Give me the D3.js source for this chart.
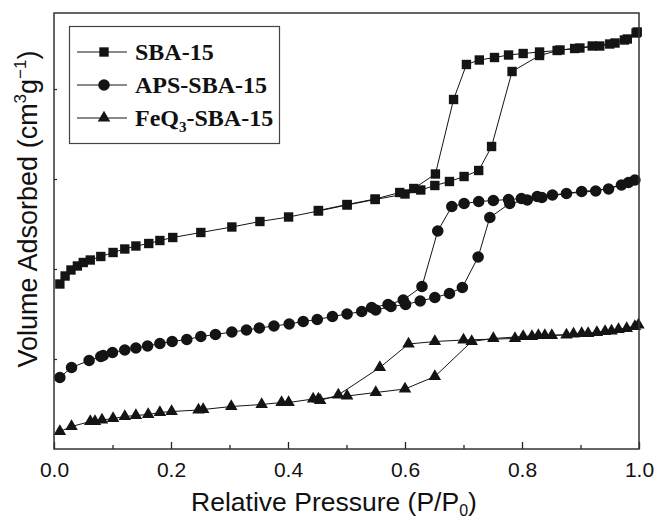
<!DOCTYPE html>
<html><head><meta charset="utf-8">
<script src="https://cdn.jsdelivr.net/npm/d3@7"></script>
<style>body{margin:0;background:#fff}svg{display:block}</style>
</head><body>
<script>
// Relative pressure (P/P0) and adsorbed volume (arbitrary units), adsorption + desorption
const sbaP = [0.010,0.019,0.029,0.040,0.050,0.062,0.080,0.101,0.121,0.140,0.162,0.181,0.203,0.251,0.304,0.352,0.401,0.452,0.501,0.549,0.600,0.627,0.651,0.676,0.701,0.726,0.748,0.783,0.830,0.865,0.899,0.933,0.959,0.980,0.997,
  0.995,0.975,0.950,0.920,0.890,0.860,0.830,0.802,0.777,0.753,0.727,0.705,0.683,0.652,0.615,0.591,0.549,0.501,0.452];
const sbaV = [330,346,358,366,373,378,385,393,400,406,411,417,423,433,444,455,464,476,488,499,510,518,527,535,545,557,605,755,787,798,802,806,812,820,834,
  832,818,810,806,801,797,794,791,788,783,778,769,699,550,521,513,500,489,477];
const apsP = [0.010,0.030,0.060,0.080,0.084,0.100,0.121,0.140,0.160,0.181,0.202,0.227,0.251,0.276,0.304,0.329,0.351,0.376,0.402,0.426,0.450,0.476,0.501,0.526,0.550,0.576,0.601,0.626,0.651,0.676,0.698,0.725,0.745,0.779,0.809,0.834,0.876,0.926,0.970,0.993,
  0.982,0.948,0.902,0.852,0.826,0.799,0.777,0.751,0.726,0.701,0.680,0.656,0.629,0.597,0.571,0.543];
const apsV = [143,163,177,185,187,193,198,202,206,211,215,219,225,229,234,238,242,246,250,255,259,265,270,275,278,285,289,296,303,311,323,384,463,491,498,503,511,516,528,538,
  533,520,515,508,505,501,499,497,495,491,485,436,325,298,289,283];
const feP = [0.010,0.030,0.062,0.070,0.082,0.101,0.121,0.140,0.161,0.181,0.201,0.247,0.255,0.303,0.355,0.389,0.401,0.443,0.452,0.501,0.550,0.600,0.651,0.714,0.751,0.802,0.828,0.851,0.888,0.913,0.942,0.965,0.993,0.999,
  0.979,0.953,0.928,0.902,0.876,0.839,0.817,0.788,0.700,0.651,0.606,0.557,0.486,0.455];
const feV = [35,45,55,55,58,61,65,67,69,73,75,78,79,85,89,93,93,100,100,106,113,120,145,215,221,225,227,227,230,231,235,239,245,248,
  241,236,233,231,228,227,225,221,218,215,210,163,108,97];
const xTicks = [0,0.2,0.4,0.6,0.8,1.0];
const xMinor = [0.1,0.3,0.5,0.7,0.9];
const yTicks = [180,360,540,720];

const W = 657, H = 519;
const m = {l:54, r:18, t:13, b:70};
const svg = d3.select("body").append("svg").attr("width",W).attr("height",H);
const x = d3.scaleLinear().domain([0,1]).range([m.l, W-m.r]);
const y = d3.scaleLinear().domain([0,872]).range([H-m.b, m.t]);
const col = "#141414";

function series(P, V, sym, size){
  const pts = P.map((p,i)=>[p,V[i]]);
  svg.append("path").datum(pts)
    .attr("d", d3.line().x(d=>x(d[0])).y(d=>y(d[1])))
    .attr("fill","none").attr("stroke",col).attr("stroke-width",1);
  svg.append("g").selectAll("path").data(pts).join("path")
    .attr("transform", d=>`translate(${x(d[0])},${y(d[1])})`)
    .attr("d", d3.symbol().type(sym).size(size)).attr("fill",col);
}
series(feP, feV, d3.symbolTriangle, 68);
series(apsP, apsV, d3.symbolCircle, 105);
series(sbaP, sbaV, d3.symbolSquare, 88);

// axes
const xAxis = d3.axisBottom(x).tickValues(xTicks).tickFormat(d3.format(".1f")).tickSizeInner(-7).tickSizeOuter(0).tickPadding(13);
const gx = svg.append("g").attr("transform",`translate(0,${H-m.b})`).call(xAxis);
gx.selectAll("text").attr("font-family","Liberation Sans, Arial, sans-serif").attr("font-size",21).attr("fill","#111");
gx.selectAll("line").attr("stroke","#222").attr("stroke-width",1.3);
gx.select(".domain").remove();
const gxm = svg.append("g").attr("transform",`translate(0,${H-m.b})`)
  .call(d3.axisBottom(x).tickValues(xMinor).tickFormat("").tickSizeInner(-4).tickSizeOuter(0));
gxm.selectAll("line").attr("stroke","#222").attr("stroke-width",1.3);
gxm.select(".domain").remove();
const gy = svg.append("g").attr("transform",`translate(${m.l},0)`)
  .call(d3.axisLeft(y).tickValues(yTicks).tickFormat("").tickSizeInner(-3).tickSizeOuter(0));
gy.selectAll("line").attr("stroke","#222").attr("stroke-width",1.2);
gy.select(".domain").remove();

svg.append("rect").attr("x",m.l).attr("y",m.t).attr("width",W-m.r-m.l).attr("height",H-m.b-m.t)
  .attr("fill","none").attr("stroke","#333").attr("stroke-width",1.5);

// axis titles
const xl = svg.append("text").attr("x",334).attr("y",511).attr("text-anchor","middle")
  .attr("font-family","Liberation Sans, Arial, sans-serif").attr("font-size",26.5).attr("fill","#111");
xl.append("tspan").text("Relative Pressure (P/P");
xl.append("tspan").text("0").attr("font-size",16).attr("dy",5);
xl.append("tspan").text(")").attr("dy",-5);

const yl = svg.append("text").attr("transform",`translate(37,209) rotate(-90)`).attr("text-anchor","middle")
  .attr("font-family","Liberation Sans, Arial, sans-serif").attr("font-size",27).attr("fill","#111");
yl.append("tspan").text("Volume Adsorbed (cm");
yl.append("tspan").text("3").attr("font-size",17).attr("dy",-11);
yl.append("tspan").text("g").attr("dy",11);
yl.append("tspan").text("\u22121").attr("font-size",17).attr("dy",-11);
yl.append("tspan").text(")").attr("dy",11);

// legend
const legNames = ["SBA-15","APS-SBA-15","FeQ"];
const legSyms = [d3.symbolSquare, d3.symbolCircle, d3.symbolTriangle];
const legSizes = [88, 105, 68];
svg.append("rect").attr("x",69.5).attr("y",26.5).attr("width",210).attr("height",117)
  .attr("fill","#fff").attr("stroke","#444").attr("stroke-width",1.2);
legNames.forEach((n,i)=>{
  const yy = 52 + i*33;
  svg.append("line").attr("x1",77).attr("x2",127).attr("y1",yy).attr("y2",yy).attr("stroke",col).attr("stroke-width",1);
  svg.append("path").attr("transform",`translate(104,${yy})`).attr("d",d3.symbol().type(legSyms[i]).size(legSizes[i])).attr("fill",col);
  const t = svg.append("text").attr("x",135).attr("y",yy+8)
    .attr("font-family","Liberation Serif, Times New Roman, serif").attr("font-weight","bold").attr("font-size",24).attr("fill","#111");
  t.append("tspan").text(n);
  if(i===2){
    t.append("tspan").text("3").attr("font-size",15).attr("dy",6);
    t.append("tspan").text("-SBA-15").attr("dy",-6);
  }
});
</script>
</body></html>
